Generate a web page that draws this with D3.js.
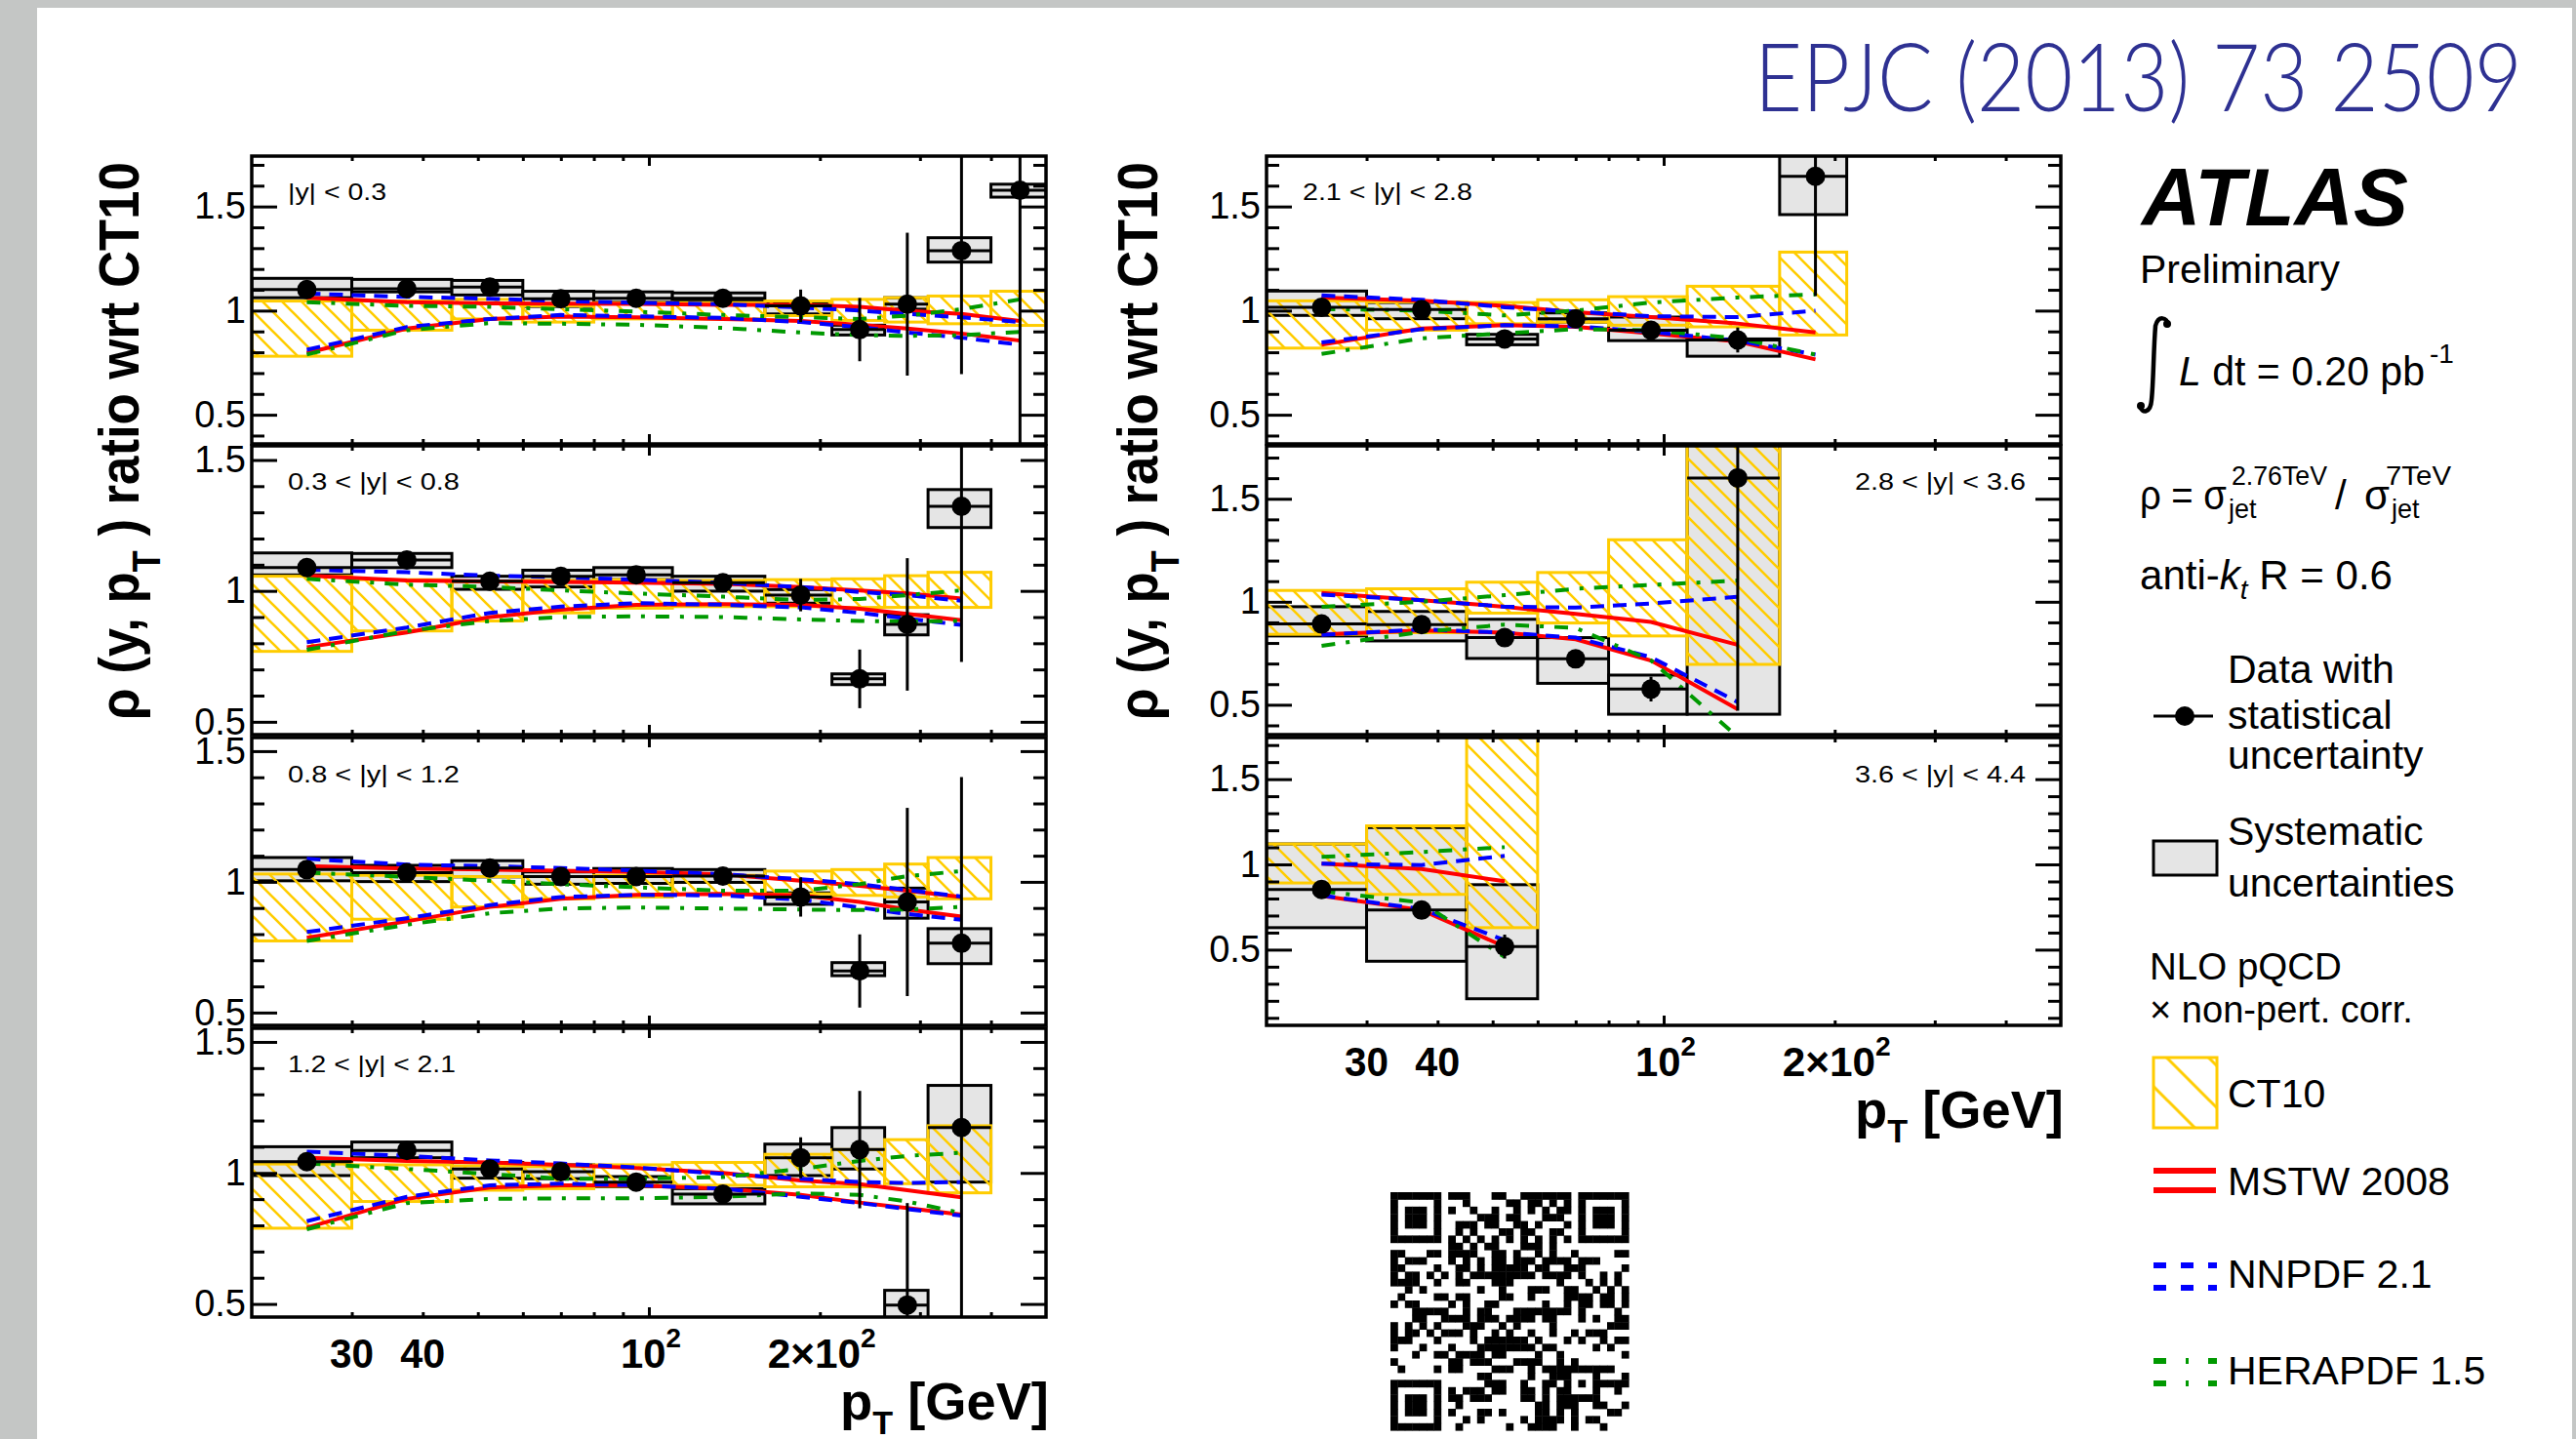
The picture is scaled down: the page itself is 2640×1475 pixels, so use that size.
<!DOCTYPE html>
<html>
<head>
<meta charset="utf-8">
<title>Jet cross-section ratio 2.76 TeV / 7 TeV relative to CT10</title>
<script src="https://cdn.jsdelivr.net/npm/d3@7"></script>
<style>
  html, body { margin: 0; padding: 0; background: #ffffff; }
  svg { display: block; }
  text { font-family: "Liberation Sans", Arial, Helvetica, sans-serif; }
</style>
</head>
<body>
<svg id="fig" width="2640" height="1475"></svg>
<script>
// ---------- binning and axis labels ----------
const binEdges   = [20, 30, 45, 60, 80, 110, 160, 210, 260, 310, 400, 500];
const binCentres = [25, 37.5, 52.5, 70, 95, 135, 185, 235, 285, 355, 450];
const rapidityLabels = ["|y| < 0.3", "0.3 < |y| < 0.8", "0.8 < |y| < 1.2", "1.2 < |y| < 2.1",
                        "2.1 < |y| < 2.8", "2.8 < |y| < 3.6", "3.6 < |y| < 4.4"];
const yTickValues = [0.5, 1, 1.5];
const xMinorTicks = [30, 40, 50, 60, 70, 80, 90, 200, 300, 400];
const xMajorTicks = [100];
const xTickAt   = [30, 40, 100, 200];
const xTickMain = ["30", "40", "10", "2×10"];
const xTickSup  = ["", "", "2", "2"];

// ---------- measured ratio rho(y, pT) / CT10, one row per rapidity slice ----------
const dataValue = [
  [1.101, 1.105, 1.113, 1.057, 1.059, 1.059, 1.023, 0.909, 1.031, 1.288, 1.578],
  [1.089, 1.118, 1.037, 1.056, 1.061, 1.031, 0.984, 0.664, 0.872, 1.323],
  [1.047, 1.035, 1.053, 1.020, 1.020, 1.022, 0.942, 0.659, 0.923, 0.765],
  [1.043, 1.086, 1.015, 1.005, 0.965, 0.919, 1.058, 1.089, 0.496, 1.173],
  [1.016, 1.005, 0.864, 0.961, 0.906, 0.859, 1.645],
  [0.892, 0.889, 0.826, 0.723, 0.576, 1.601],
  [0.853, 0.732, 0.518]
];
const statErr = [
  [0.008, 0.010, 0.012, 0.012, 0.015, 0.020, 0.078, 0.152, 0.343, 0.593, 1.300],
  [0.008, 0.010, 0.012, 0.012, 0.015, 0.020, 0.062, 0.112, 0.253, 0.594],
  [0.008, 0.010, 0.012, 0.012, 0.015, 0.020, 0.075, 0.140, 0.360, 0.636],
  [0.008, 0.010, 0.012, 0.012, 0.015, 0.020, 0.078, 0.224, 0.389, 0.900],
  [0.015, 0.020, 0.040, 0.025, 0.035, 0.060, 0.575],
  [0.015, 0.020, 0.025, 0.030, 0.060, 1.130],
  [0.020, 0.025, 0.070]
];
const sysHigh = [
  [1.155, 1.150, 1.145, 1.093, 1.090, 1.085, 1.038, 0.930, 1.062, 1.350, 1.607],
  [1.145, 1.143, 1.056, 1.079, 1.089, 1.056, 1.005, 0.683, 0.909, 1.387],
  [1.093, 1.063, 1.081, 1.038, 1.051, 1.047, 0.958, 0.691, 0.976, 0.821],
  [1.100, 1.118, 1.040, 1.031, 0.986, 0.940, 1.110, 1.173, 0.552, 1.334],
  [1.094, 1.039, 0.886, 0.989, 0.969, 0.864, 1.800],
  [0.976, 0.953, 0.915, 0.826, 0.644, 1.850],
  [1.120, 1.216, 0.881]
];
const sysLow = [
  [1.062, 1.090, 1.075, 1.020, 1.040, 1.046, 0.984, 0.883, 1.007, 1.233, 1.545],
  [1.061, 1.089, 1.006, 1.015, 1.043, 0.999, 0.953, 0.642, 0.832, 1.242],
  [1.004, 1.001, 1.019, 0.991, 0.994, 0.998, 0.914, 0.641, 0.861, 0.687],
  [0.990, 1.058, 0.980, 0.978, 0.947, 0.882, 0.990, 1.015, 0.420, 0.965],
  [0.977, 0.961, 0.836, 0.945, 0.856, 0.781, 1.461],
  [0.834, 0.810, 0.725, 0.604, 0.454, 0.454],
  [0.629, 0.432, 0.212]
];

// ---------- NLO pQCD x non-pert. corr. predictions ----------
const ct10High = [
  [1.046, 1.046, 1.054, 1.023, 1.038, 1.038, 1.046, 1.054, 1.062, 1.070, 1.093],
  [1.056, 1.043, 1.036, 1.040, 1.043, 1.040, 1.043, 1.046, 1.058, 1.071],
  [1.030, 1.025, 1.020, 1.020, 1.025, 1.025, 1.041, 1.047, 1.068, 1.093],
  [1.034, 1.031, 1.027, 1.024, 1.031, 1.040, 1.071, 1.089, 1.127, 1.180],
  [1.047, 1.042, 1.039, 1.052, 1.067, 1.117, 1.281],
  [1.055, 1.063, 1.095, 1.142, 1.301, 1.850],
  [1.120, 1.226, 1.850]
];
const ct10Low = [
  [0.781, 0.906, 0.960, 0.945, 0.960, 0.960, 0.976, 0.953, 0.945, 0.937, 0.929],
  [0.769, 0.847, 0.885, 0.916, 0.934, 0.940, 0.940, 0.937, 0.937, 0.937],
  [0.774, 0.857, 0.904, 0.935, 0.942, 0.954, 0.954, 0.948, 0.942, 0.935],
  [0.789, 0.891, 0.934, 0.940, 0.949, 0.953, 0.947, 0.947, 0.959, 0.924],
  [0.820, 0.906, 0.937, 0.945, 0.930, 0.922, 0.883],
  [0.842, 0.850, 0.945, 0.897, 0.834, 0.696],
  [0.891, 0.824, 0.629]
];
const mstwUp = [
  [1.062, 1.041, 1.035, 1.033, 1.032, 1.027, 1.027, 1.018, 1.000, 0.984, 0.950],
  [1.058, 1.040, 1.036, 1.034, 1.031, 1.027, 1.015, 1.002, 0.990, 0.971],
  [1.060, 1.051, 1.047, 1.043, 1.038, 1.029, 1.004, 0.985, 0.966, 0.942],
  [1.058, 1.046, 1.040, 1.031, 1.019, 1.000, 0.971, 0.957, 0.934, 0.907],
  [1.063, 1.047, 1.023, 0.992, 0.969, 0.938, 0.895],
  [1.043, 1.008, 0.976, 0.941, 0.902, 0.791],
  [1.004, 0.973, 0.901]
];
const mstwDown = [
  [0.797, 0.914, 0.960, 0.971, 0.968, 0.960, 0.950, 0.932, 0.914, 0.890, 0.856],
  [0.785, 0.841, 0.900, 0.928, 0.947, 0.949, 0.947, 0.932, 0.912, 0.888],
  [0.786, 0.849, 0.904, 0.935, 0.950, 0.954, 0.948, 0.923, 0.894, 0.867],
  [0.791, 0.901, 0.944, 0.953, 0.953, 0.940, 0.916, 0.887, 0.866, 0.841],
  [0.836, 0.914, 0.930, 0.922, 0.891, 0.852, 0.766],
  [0.842, 0.861, 0.850, 0.818, 0.715, 0.478],
  [0.815, 0.732, 0.518]
];
const nnpdfUp = [
  [1.082, 1.066, 1.057, 1.046, 1.038, 1.031, 1.015, 1.000, 0.984, 0.968, 0.945],
  [1.081, 1.071, 1.058, 1.052, 1.043, 1.031, 1.015, 0.996, 0.984, 0.962],
  [1.088, 1.066, 1.060, 1.053, 1.043, 1.029, 1.010, 0.991, 0.969, 0.944],
  [1.081, 1.065, 1.048, 1.036, 1.021, 0.996, 0.978, 0.965, 0.962, 0.965],
  [1.073, 1.052, 1.016, 0.995, 0.973, 0.969, 1.000],
  [1.035, 1.008, 0.976, 0.972, 0.992, 1.024],
  [1.004, 0.996, 1.050]
];
const nnpdfDown = [
  [0.812, 0.921, 0.960, 0.979, 0.973, 0.965, 0.945, 0.921, 0.895, 0.870, 0.836],
  [0.804, 0.860, 0.916, 0.940, 0.953, 0.947, 0.937, 0.916, 0.894, 0.870],
  [0.808, 0.861, 0.911, 0.942, 0.950, 0.948, 0.932, 0.902, 0.877, 0.855],
  [0.816, 0.909, 0.953, 0.959, 0.953, 0.940, 0.909, 0.885, 0.862, 0.837],
  [0.847, 0.911, 0.930, 0.925, 0.898, 0.855, 0.789],
  [0.839, 0.866, 0.850, 0.826, 0.731, 0.513],
  [0.818, 0.738, 0.556]
];
const heraUp = [
  [1.041, 1.023, 1.018, 1.007, 0.995, 0.979, 0.968, 0.960, 0.976, 1.007, 1.054],
  [1.046, 1.024, 1.015, 1.002, 0.990, 0.978, 0.965, 0.969, 0.984, 1.002],
  [1.035, 1.019, 1.004, 0.991, 0.979, 0.966, 0.966, 0.991, 1.022, 1.041],
  [1.036, 1.015, 0.996, 0.978, 0.978, 0.984, 1.015, 1.046, 1.065, 1.077],
  [1.008, 1.000, 0.977, 1.000, 1.039, 1.063, 1.078],
  [0.976, 1.000, 1.032, 1.063, 1.082, 1.103],
  [1.044, 1.073, 1.101]
];
const heraDown = [
  [0.789, 0.906, 0.940, 0.937, 0.932, 0.917, 0.895, 0.882, 0.879, 0.882, 0.898],
  [0.775, 0.847, 0.885, 0.900, 0.903, 0.900, 0.891, 0.885, 0.883, 0.885],
  [0.774, 0.836, 0.880, 0.898, 0.902, 0.898, 0.894, 0.892, 0.894, 0.904],
  [0.785, 0.885, 0.901, 0.903, 0.903, 0.909, 0.922, 0.916, 0.891, 0.847],
  [0.792, 0.867, 0.891, 0.911, 0.906, 0.867, 0.789],
  [0.786, 0.854, 0.889, 0.873, 0.715, 0.343],
  [0.843, 0.776, 0.457]
];

// ---------- layout ----------
const YELLOW = "#ffcc00", RED = "#ff0000", BLUE = "#0000ff", GREEN = "#009900";
const BOX_FILL = "#e5e5e5", PAGE_GREY = "#c4c6c5", JOURNAL_BLUE = "#2e3192";
const COLUMN_X = [[258, 1072], [1298, 2112]];
const PANELS = [
  { col: 0, top: 160,  bottom: 455,  lo: 0.360, hi: 1.742, lx: 295,  ly: 205,  lw: 101 },
  { col: 0, top: 457,  bottom: 753,  lo: 0.451, hi: 1.554, lx: 295,  ly: 502,  lw: 176 },
  { col: 0, top: 756,  bottom: 1051, lo: 0.451, hi: 1.552, lx: 295,  ly: 802,  lw: 176 },
  { col: 0, top: 1054, bottom: 1350, lo: 0.450, hi: 1.552, lx: 295,  ly: 1099, lw: 172, xlabels: true },
  { col: 1, top: 160,  bottom: 455,  lo: 0.360, hi: 1.742, lx: 1335, ly: 205,  lw: 174 },
  { col: 1, top: 457,  bottom: 753,  lo: 0.355, hi: 1.757, lx: 1901, ly: 502,  lw: 175 },
  { col: 1, top: 756,  bottom: 1051, lo: 0.056, hi: 1.744, lx: 1901, ly: 802,  lw: 175, xlabels: true }
];

const svg = d3.select("#fig");
svg.append("rect").attr("width", 2640).attr("height", 1475).attr("fill", "#ffffff");
svg.append("rect").attr("x", 0).attr("y", 0).attr("width", 2640).attr("height", 8).attr("fill", PAGE_GREY);
svg.append("rect").attr("x", 0).attr("y", 0).attr("width", 38).attr("height", 1475).attr("fill", PAGE_GREY);
svg.append("rect").attr("x", 2636).attr("y", 0).attr("width", 4).attr("height", 1475).attr("fill", PAGE_GREY);

const defs = svg.append("defs");
function hatchPattern(id, step, ox, oy, width) {
  const p = defs.append("pattern").attr("id", id).attr("patternUnits", "userSpaceOnUse")
    .attr("x", ox).attr("y", oy).attr("width", step).attr("height", step);
  const s = step;
  p.append("path")
    .attr("d", `M${-s},${-s} L${2 * s},${2 * s} M0,${-s} L${2 * s},${s} M${-s},0 L${s},${2 * s}`)
    .attr("stroke", YELLOW).attr("stroke-width", width).attr("fill", "none");
}
hatchPattern("hatch", 20, 0, 0, 2.6);
hatchPattern("hatchLegend", 43, 2222, 1085.6, 3);

// text helper: draws a text and stretches it horizontally to a given width
function fitText(parent, o, build) {
  const t = parent.append("text")
    .attr("font-size", o.size)
    .attr("font-weight", o.weight || "normal")
    .attr("font-style", o.style || "normal")
    .attr("fill", o.fill || "#000");
  if (o.family) t.style("font-family", o.family);
  build(t);
  const bb = t.node().getBBox();
  const sx = o.width ? o.width / bb.width : 1;
  const w = bb.width * sx;
  let shift = 0;
  if (o.anchor === "middle") shift = -w / 2;
  else if (o.anchor === "end") shift = -w;
  t.attr("transform",
    `translate(${o.x},${o.y})${o.rotate ? ` rotate(${o.rotate})` : ""} translate(${shift},0) scale(${sx},1) translate(${-bb.x},0)`);
  return t;
}

const theoryStyles = [
  { up: mstwUp,  down: mstwDown,  color: RED,   dash: null },
  { up: nnpdfUp, down: nnpdfDown, color: BLUE,  dash: "14,9" },
  { up: heraUp,  down: heraDown,  color: GREEN, dash: "14,11,4,11" }
];

PANELS.forEach((P, p) => {
  const [xl, xr] = COLUMN_X[P.col];
  const x = d3.scaleLog().domain([20, 500]).range([xl, xr]);
  const y = d3.scaleLinear().domain([P.lo, P.hi]).range([P.bottom, P.top]);
  const n = dataValue[p].length;
  const idx = d3.range(n);

  const clipId = "panelClip" + p;
  defs.append("clipPath").attr("id", clipId).append("rect")
    .attr("x", xl).attr("y", P.top).attr("width", xr - xl).attr("height", P.bottom - P.top);

  const g = svg.append("g");
  const plot = g.append("g").attr("clip-path", `url(#${clipId})`);

  // systematic uncertainty boxes
  plot.append("g").selectAll("rect").data(idx).join("rect")
    .attr("x", i => x(binEdges[i]))
    .attr("width", i => x(binEdges[i + 1]) - x(binEdges[i]))
    .attr("y", i => y(sysHigh[p][i]))
    .attr("height", i => y(sysLow[p][i]) - y(sysHigh[p][i]))
    .attr("fill", BOX_FILL).attr("stroke", "#000").attr("stroke-width", 3);

  // CT10 uncertainty band (hatched)
  plot.append("g").selectAll("rect").data(idx).join("rect")
    .attr("x", i => x(binEdges[i]))
    .attr("width", i => x(binEdges[i + 1]) - x(binEdges[i]))
    .attr("y", i => y(ct10High[p][i]))
    .attr("height", i => y(ct10Low[p][i]) - y(ct10High[p][i]))
    .attr("fill", "url(#hatch)").attr("stroke", YELLOW).attr("stroke-width", 3);

  // alternative PDF sets: upper and lower edges
  theoryStyles.forEach(s => {
    const line = d3.line().x((v, i) => x(binCentres[i])).y(v => y(v));
    [s.up[p], s.down[p]].forEach(arr => {
      plot.append("path").attr("d", line(arr))
        .attr("fill", "none").attr("stroke", s.color).attr("stroke-width", 4)
        .attr("stroke-dasharray", s.dash);
    });
  });

  // data: bin-width bars, statistical errors, markers
  const dg = plot.append("g");
  dg.selectAll("line.xerr").data(idx).join("line").attr("class", "xerr")
    .attr("x1", i => x(binEdges[i])).attr("x2", i => x(binEdges[i + 1]))
    .attr("y1", i => y(dataValue[p][i])).attr("y2", i => y(dataValue[p][i]))
    .attr("stroke", "#000").attr("stroke-width", 3);
  dg.selectAll("line.yerr").data(idx).join("line").attr("class", "yerr")
    .attr("x1", i => x(binCentres[i])).attr("x2", i => x(binCentres[i]))
    .attr("y1", i => y(dataValue[p][i] - statErr[p][i]))
    .attr("y2", i => y(dataValue[p][i] + statErr[p][i]))
    .attr("stroke", "#000").attr("stroke-width", 3);
  dg.selectAll("circle").data(idx).join("circle")
    .attr("cx", i => x(binCentres[i])).attr("cy", i => y(dataValue[p][i]))
    .attr("r", 10).attr("fill", "#000");

  // axes with inward ticks on all four sides
  const yMinor = d3.range(1, 18).map(k => k / 10)
    .filter(v => v > P.lo && v < P.hi && !yTickValues.includes(v));
  const styleAxis = a => {
    a.select(".domain").remove();
    a.selectAll("line").attr("stroke", "#000").attr("stroke-width", 3);
  };
  g.append("g").attr("transform", `translate(${xl},0)`)
    .call(d3.axisLeft(y).tickValues(yTickValues).tickSize(-26).tickPadding(6).tickFormat(d => String(d)))
    .call(styleAxis)
    .call(a => a.selectAll("text").attr("font-size", 38).attr("fill", "#000")
      .attr("font-family", "Liberation Sans, Arial, sans-serif"));
  g.append("g").attr("transform", `translate(${xl},0)`)
    .call(d3.axisLeft(y).tickValues(yMinor).tickSize(-13).tickFormat(() => "")).call(styleAxis);
  g.append("g").attr("transform", `translate(${xr},0)`)
    .call(d3.axisRight(y).tickValues(yTickValues).tickSize(-26).tickFormat(() => "")).call(styleAxis);
  g.append("g").attr("transform", `translate(${xr},0)`)
    .call(d3.axisRight(y).tickValues(yMinor).tickSize(-13).tickFormat(() => "")).call(styleAxis);
  [[d3.axisBottom, P.bottom], [d3.axisTop, P.top]].forEach(([ax, yy]) => {
    g.append("g").attr("transform", `translate(0,${yy})`)
      .call(ax(x).tickValues(xMinorTicks).tickSize(-5).tickFormat(() => "")).call(styleAxis);
    g.append("g").attr("transform", `translate(0,${yy})`)
      .call(ax(x).tickValues(xMajorTicks).tickSize(-10).tickFormat(() => "")).call(styleAxis);
  });

  // frame
  g.append("rect").attr("x", xl).attr("y", P.top).attr("width", xr - xl).attr("height", P.bottom - P.top)
    .attr("fill", "none").attr("stroke", "#000").attr("stroke-width", 3.5);

  // rapidity label
  fitText(g, { x: P.lx, y: P.ly, width: P.lw, size: 24 }, t => t.text(rapidityLabels[p]));

  // pT axis labels under the bottom panel of each column
  if (P.xlabels) {
    const widths = [45, 46, 62, 111];
    xTickAt.forEach((v, k) => {
      fitText(g, { x: x(v) + (xTickSup[k] ? 2 : 0), y: P.bottom + 52, width: widths[k], size: 42,
                   weight: "bold", anchor: "middle" }, t => {
        t.append("tspan").text(xTickMain[k]);
        if (xTickSup[k]) t.append("tspan").attr("font-size", 28).attr("dy", -21).text(xTickSup[k]);
      });
    });
    fitText(g, { x: xr + 3, y: P.bottom + 105, width: 214, size: 54, weight: "bold", anchor: "end" }, t => {
      t.append("tspan").text("p");
      t.append("tspan").attr("font-size", 34).attr("dy", 15).text("T");
      t.append("tspan").attr("dy", -15).text(" [GeV]");
    });
  }
});

// y-axis titles of both columns
[142, 1186].forEach(bx => {
  fitText(svg, { x: bx, y: 738, width: 572, size: 58, weight: "bold", rotate: -90 }, t => {
    t.append("tspan").text("ρ (y, p");
    t.append("tspan").attr("font-size", 40).attr("dy", 22).text("T");
    t.append("tspan").attr("dy", -22).text(" ) ratio wrt CT10");
  });
});

// journal reference (light, condensed)
fitText(svg, { x: 1798, y: 114, width: 787, size: 97, weight: 300, fill: JOURNAL_BLUE,
               family: "Lato, 'Liberation Sans', Arial, sans-serif" }, t => t.text("EPJC (2013) 73 2509"));

// ---------- annotation block ----------
const ann = svg.append("g");
fitText(ann, { x: 2193, y: 231, width: 275, size: 84, weight: "bold", style: "italic" }, t => t.text("ATLAS"));
fitText(ann, { x: 2193, y: 290, width: 205, size: 40 }, t => t.text("Preliminary"));
ann.append("path")
  .attr("d", "M2222,333 C2221,325 2212,323 2209,334 C2207,358 2207,392 2205,410 C2204,424 2195,424 2193,416")
  .attr("fill", "none").attr("stroke", "#000").attr("stroke-width", 4.5).attr("stroke-linecap", "round");
ann.append("circle").attr("cx", 2221).attr("cy", 332).attr("r", 4).attr("fill", "#000");
ann.append("circle").attr("cx", 2194).attr("cy", 416).attr("r", 4).attr("fill", "#000");
fitText(ann, { x: 2233, y: 395, width: 252, size: 42 }, t => {
  t.append("tspan").attr("font-style", "italic").text("L");
  t.append("tspan").text(" dt = 0.20 pb");
});
fitText(ann, { x: 2490, y: 372, size: 28 }, t => t.text("-1"));

fitText(ann, { x: 2193, y: 522, width: 89, size: 42 }, t => t.text("ρ = σ"));
fitText(ann, { x: 2287, y: 497, width: 98, size: 27 }, t => t.text("2.76TeV"));
fitText(ann, { x: 2283, y: 531, width: 30, size: 27 }, t => t.text("jet"));
fitText(ann, { x: 2393, y: 522, size: 42 }, t => t.text("/"));
fitText(ann, { x: 2423, y: 522, size: 42 }, t => t.text("σ"));
fitText(ann, { x: 2445, y: 497, width: 67, size: 27 }, t => t.text("7TeV"));
fitText(ann, { x: 2450, y: 531, width: 30, size: 27 }, t => t.text("jet"));

fitText(ann, { x: 2193, y: 604, width: 259, size: 42 }, t => {
  t.append("tspan").text("anti-");
  t.append("tspan").attr("font-style", "italic").text("k");
  t.append("tspan").attr("font-style", "italic").attr("font-size", 28).attr("dy", 10).text("t");
  t.append("tspan").attr("dy", -10).text(" R = 0.6");
});

// ---------- legend ----------
const leg = svg.append("g");
leg.append("line").attr("x1", 2207).attr("x2", 2268).attr("y1", 734).attr("y2", 734)
  .attr("stroke", "#000").attr("stroke-width", 3);
leg.append("circle").attr("cx", 2239).attr("cy", 734).attr("r", 10).attr("fill", "#000");
[["Data with", 700], ["statistical", 747], ["uncertainty", 788]].forEach(([s, yy]) =>
  fitText(leg, { x: 2283, y: yy, size: 41 }, t => t.text(s)));

leg.append("rect").attr("x", 2207).attr("y", 862).attr("width", 65).attr("height", 35)
  .attr("fill", BOX_FILL).attr("stroke", "#000").attr("stroke-width", 3);
[["Systematic", 866], ["uncertainties", 919]].forEach(([s, yy]) =>
  fitText(leg, { x: 2283, y: yy, size: 41 }, t => t.text(s)));

fitText(leg, { x: 2203, y: 1004, width: 197, size: 38 }, t => t.text("NLO pQCD"));
fitText(leg, { x: 2203, y: 1048, width: 270, size: 38 }, t => t.text("× non-pert. corr."));

leg.append("rect").attr("x", 2207).attr("y", 1084).attr("width", 65).attr("height", 72)
  .attr("fill", "url(#hatchLegend)").attr("stroke", YELLOW).attr("stroke-width", 3);
fitText(leg, { x: 2283, y: 1135, size: 41 }, t => t.text("CT10"));

[1200, 1220].forEach(yy => leg.append("line").attr("x1", 2207).attr("x2", 2271).attr("y1", yy).attr("y2", yy)
  .attr("stroke", RED).attr("stroke-width", 6));
fitText(leg, { x: 2283, y: 1225, size: 41 }, t => t.text("MSTW 2008"));

[1297, 1320].forEach(yy => leg.append("line").attr("x1", 2207).attr("x2", 2272).attr("y1", yy).attr("y2", yy)
  .attr("stroke", BLUE).attr("stroke-width", 6).attr("stroke-dasharray", "13,15"));
fitText(leg, { x: 2283, y: 1320, size: 41 }, t => t.text("NNPDF 2.1"));

[1395, 1418].forEach(yy => leg.append("line").attr("x1", 2207).attr("x2", 2272).attr("y1", yy).attr("y2", yy)
  .attr("stroke", GREEN).attr("stroke-width", 6).attr("stroke-dasharray", "13,20,3,20"));
fitText(leg, { x: 2283, y: 1419, size: 41 }, t => t.text("HERAPDF 1.5"));

// ---------- QR code block ----------
const QR_N = 33, QR_X = 1425, QR_Y = 1222, QR_M = 7.4;
function qrDark(r, c) {
  for (const [r0, c0] of [[0, 0], [0, 26], [26, 0]]) {
    if (r >= r0 && r < r0 + 7 && c >= c0 && c < c0 + 7) {
      const ring = Math.max(Math.abs(r - r0 - 3), Math.abs(c - c0 - 3));
      return ring !== 2;
    }
  }
  if ((r < 8 && c < 8) || (r < 8 && c > 24) || (r > 24 && c < 8)) return false;
  if (r >= 24 && r <= 28 && c >= 24 && c <= 28) {
    return Math.max(Math.abs(r - 26), Math.abs(c - 26)) !== 1;
  }
  if (r === 6) return c % 2 === 0;
  if (c === 6) return r % 2 === 0;
  let h = Math.imul(r * 131 + c * 977 + 12345, 2654435761) >>> 0;
  h ^= h >>> 13; h = Math.imul(h, 1274126177) >>> 0; h ^= h >>> 16;
  return (h & 1) === 1;
}
const qrCells = [];
for (let r = 0; r < QR_N; r++) for (let c = 0; c < QR_N; c++) if (qrDark(r, c)) qrCells.push([r, c]);
svg.append("g").selectAll("rect").data(qrCells).join("rect")
  .attr("x", d => QR_X + d[1] * QR_M).attr("y", d => QR_Y + d[0] * QR_M)
  .attr("width", QR_M + 0.4).attr("height", QR_M + 0.4).attr("fill", "#000");
</script>
</body>
</html>
